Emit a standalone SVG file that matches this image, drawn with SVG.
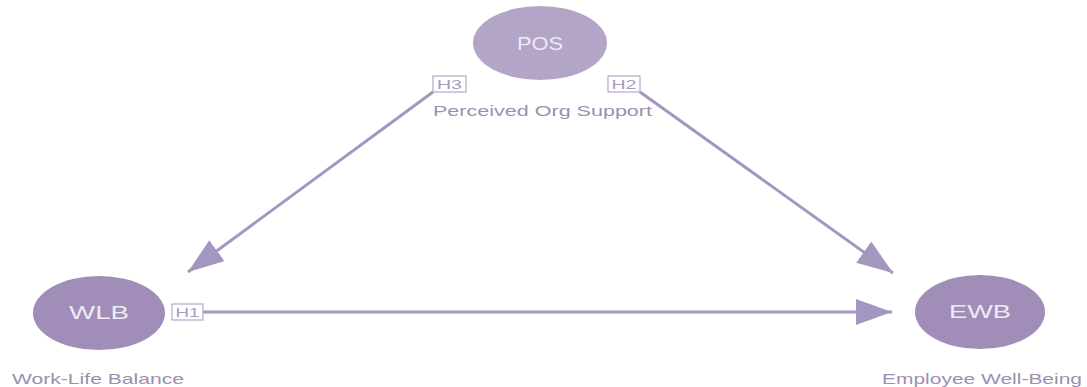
<svg xmlns="http://www.w3.org/2000/svg" width="1087" height="387" viewBox="0 0 1087 387">
<style>
.lbl{font-family:"Liberation Sans",Arial,sans-serif;font-size:15px;fill:#9b8fb2}
.nt{font-family:"Liberation Sans",Arial,sans-serif;font-size:18px;fill:#eeeaf3;text-anchor:middle}
.edge{stroke:#a497bf;stroke-width:3;fill:none}
.hbox{fill:#ffffff;stroke:#b3a8c8;stroke-width:1.2}
.ht{font-family:"Liberation Sans",Arial,sans-serif;font-size:13px;fill:#a79cbf;text-anchor:middle}
</style>
<defs>
<marker id="ah" markerUnits="userSpaceOnUse" markerWidth="40" markerHeight="28" refX="36" refY="13" orient="auto">
<path d="M0,0 L36,13 L0,26 Z" fill="#a497bf"/>
</marker>
</defs>
<g id="connectors">
<line class="edge" x1="433" y1="92" x2="188" y2="272" marker-end="url(#ah)"/>
<line class="edge" x1="640" y1="92" x2="893" y2="273" marker-end="url(#ah)"/>
<line class="edge" x1="203" y1="312" x2="892" y2="312" marker-end="url(#ah)"/>
<g id="h3"><rect class="hbox" x="433" y="76" width="33" height="16"/><text class="ht" x="449.5" y="89" textLength="25" lengthAdjust="spacingAndGlyphs">H3</text></g>
<g id="h2"><rect class="hbox" x="608" y="76" width="32" height="16"/><text class="ht" x="624" y="89" textLength="25" lengthAdjust="spacingAndGlyphs">H2</text></g>
<g id="h1"><rect class="hbox" x="172" y="304" width="31" height="16"/><text class="ht" x="187.5" y="317" textLength="24" lengthAdjust="spacingAndGlyphs">H1</text></g>
</g>
<g id="node-pos">
<ellipse cx="540" cy="43" rx="67" ry="37" fill="#b3a5c7"/>
<text class="nt" x="540" y="50" textLength="46" lengthAdjust="spacingAndGlyphs">POS</text>
<text class="lbl" x="433" y="116" textLength="219" lengthAdjust="spacingAndGlyphs">Perceived Org Support</text>
</g>
<g id="node-wlb">
<ellipse cx="99" cy="313" rx="66" ry="37" fill="#a08db8"/>
<text class="nt" x="99" y="319" textLength="60" lengthAdjust="spacingAndGlyphs">WLB</text>
<text class="lbl" x="12" y="384" textLength="172" lengthAdjust="spacingAndGlyphs">Work-Life Balance</text>
</g>
<g id="node-ewb">
<ellipse cx="980" cy="312" rx="65" ry="37" fill="#a08db8"/>
<text class="nt" x="980" y="318" textLength="62" lengthAdjust="spacingAndGlyphs">EWB</text>
<text class="lbl" x="882" y="384" textLength="200" lengthAdjust="spacingAndGlyphs">Employee Well-Being</text>
</g>
</svg>
